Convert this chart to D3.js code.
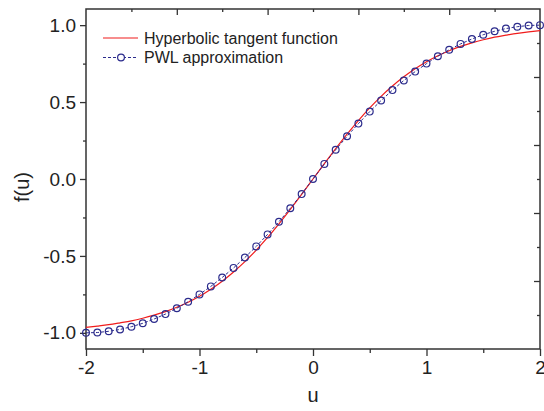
<!DOCTYPE html>
<html>
<head>
<meta charset="utf-8">
<script src="https://cdn.jsdelivr.net/npm/d3@7"></script>
<style>
  html, body { margin: 0; padding: 0; background: #fff; }
  svg text { font-family: "Liberation Sans", Arial, sans-serif; fill: #222; }
</style>
</head>
<body>
<div id="chart"></div>
<script>
// sample points on u
const uValues = [-2.0, -1.9, -1.8, -1.7, -1.6, -1.5, -1.4, -1.3, -1.2, -1.1,
  -1.0, -0.9, -0.8, -0.7, -0.6, -0.5, -0.4, -0.3, -0.2, -0.1,
  0.0, 0.1, 0.2, 0.3, 0.4, 0.5, 0.6, 0.7, 0.8, 0.9,
  1.0, 1.1, 1.2, 1.3, 1.4, 1.5, 1.6, 1.7, 1.8, 1.9, 2.0];

// red curve
const tanhValues = [-0.964, -0.956, -0.947, -0.935, -0.922, -0.905, -0.885, -0.862, -0.834, -0.801,
  -0.762, -0.716, -0.664, -0.604, -0.537, -0.462, -0.380, -0.291, -0.197, -0.100,
  0.000, 0.100, 0.197, 0.291, 0.380, 0.462, 0.537, 0.604, 0.664, 0.716,
  0.762, 0.801, 0.834, 0.862, 0.885, 0.905, 0.922, 0.935, 0.947, 0.956, 0.964];

// blue circles
const pwlValues = [-1.000, -0.998, -0.990, -0.978, -0.960, -0.938, -0.910, -0.878, -0.840, -0.798,
  -0.750, -0.698, -0.640, -0.578, -0.510, -0.438, -0.360, -0.278, -0.190, -0.098,
  0.000, 0.098, 0.190, 0.278, 0.360, 0.438, 0.510, 0.578, 0.640, 0.698,
  0.750, 0.798, 0.840, 0.878, 0.910, 0.938, 0.960, 0.978, 0.990, 0.998, 1.000];

const xTicks = [-2, -1, 0, 1, 2];
const xMinorTicks = [-1.5, -0.5, 0.5, 1.5];
const yTicks = [-1.0, -0.5, 0.0, 0.5, 1.0];
const yMinorTicks = [-0.75, -0.25, 0.25, 0.75];
const legendLabels = ["Hyperbolic tangent function", "PWL approximation"];

const width = 544, height = 411;
const margin = { left: 86, right: 4, top: 9, bottom: 62 };
const plotW = width - margin.left - margin.right;
const plotH = height - margin.top - margin.bottom;

const svg = d3.select("#chart").append("svg")
    .attr("width", width)
    .attr("height", height);

const x = d3.scaleLinear().domain([-2, 2]).range([margin.left, margin.left + plotW]);
const y = d3.scaleLinear().domain([-1.105, 1.105]).range([margin.top + plotH, margin.top]);
// mirror axes in Origin style: 10 equal steps
const xTop = d3.scaleLinear().domain([0, 10]).range([margin.left, margin.left + plotW]);
const yRight = d3.scaleLinear().domain([0, 10]).range([margin.top, margin.top + plotH]);

const axisColor = "#333";
// plain hyphen instead of d3's unicode minus
const hyphen = f => d => f(d).replace("\u2212", "-");

function styleAxis(g){
    g.select(".domain").remove();
    g.selectAll(".tick line").attr("stroke", axisColor).attr("stroke-width", 1.3);
    g.selectAll(".tick text")
        .style("font-size", "19px")
        .style("fill", "#222")
        .style("font-family", "'Liberation Sans', Arial, sans-serif");
}

// bottom
svg.append("g")
    .attr("transform", `translate(0,${margin.top + plotH})`)
    .call(d3.axisBottom(x).tickValues(xTicks).tickSize(7).tickPadding(5)
        .tickFormat(hyphen(d3.format("d"))))
    .call(styleAxis);
svg.append("g")
    .attr("transform", `translate(0,${margin.top + plotH})`)
    .call(d3.axisBottom(x).tickValues(xMinorTicks).tickSize(4).tickFormat(""))
    .call(styleAxis);

// left
svg.append("g")
    .attr("transform", `translate(${margin.left},0)`)
    .call(d3.axisLeft(y).tickValues(yTicks).tickSize(6).tickPadding(4)
        .tickFormat(hyphen(d3.format(".1f"))))
    .call(styleAxis);
svg.append("g")
    .attr("transform", `translate(${margin.left},0)`)
    .call(d3.axisLeft(y).tickValues(yMinorTicks).tickSize(3).tickFormat(""))
    .call(styleAxis);

// top, ticks pointing inward
svg.append("g")
    .attr("transform", `translate(0,${margin.top})`)
    .call(d3.axisBottom(xTop).tickValues([2, 4, 6, 8]).tickSize(6).tickFormat(""))
    .call(styleAxis);
svg.append("g")
    .attr("transform", `translate(0,${margin.top})`)
    .call(d3.axisBottom(xTop).tickValues([1, 3, 5, 7, 9]).tickSize(3).tickFormat(""))
    .call(styleAxis);

// right, ticks pointing inward
svg.append("g")
    .attr("transform", `translate(${margin.left + plotW},0)`)
    .call(d3.axisLeft(yRight).tickValues([2, 4, 6, 8]).tickSize(6).tickFormat(""))
    .call(styleAxis);
svg.append("g")
    .attr("transform", `translate(${margin.left + plotW},0)`)
    .call(d3.axisLeft(yRight).tickValues([1, 3, 5, 7, 9]).tickSize(3).tickFormat(""))
    .call(styleAxis);

// frame
svg.append("rect")
    .attr("x", margin.left)
    .attr("y", margin.top)
    .attr("width", plotW)
    .attr("height", plotH)
    .attr("fill", "none")
    .attr("stroke", axisColor)
    .attr("stroke-width", 1.5);

const red = "#f01c1c";
const blue = "#2b2b8c";

const tanhData = uValues.map((u, i) => ({ u: u, v: tanhValues[i] }));
const pwlData = uValues.map((u, i) => ({ u: u, v: pwlValues[i] }));

svg.append("path")
    .datum(tanhData)
    .attr("fill", "none")
    .attr("stroke", red)
    .attr("stroke-width", 1.2)
    .attr("d", d3.line().x(d => x(d.u)).y(d => y(d.v)).curve(d3.curveMonotoneX));

svg.append("path")
    .datum(pwlData)
    .attr("fill", "none")
    .attr("stroke", blue)
    .attr("stroke-width", 1)
    .attr("stroke-dasharray", "3,2")
    .attr("d", d3.line().x(d => x(d.u)).y(d => y(d.v)));

svg.append("g").selectAll("circle")
    .data(pwlData)
    .enter()
    .append("circle")
        .attr("cx", d => x(d.u))
        .attr("cy", d => y(d.v))
        .attr("r", 3.4)
        .attr("fill", "none")
        .attr("stroke", blue)
        .attr("stroke-width", 1.2);

// legend
const legend = svg.append("g");
legend.append("line")
    .attr("x1", 103).attr("x2", 138)
    .attr("y1", 38).attr("y2", 38)
    .attr("stroke", red).attr("stroke-width", 1.2);
legend.append("line")
    .attr("x1", 103).attr("x2", 138)
    .attr("y1", 57.5).attr("y2", 57.5)
    .attr("stroke", blue).attr("stroke-width", 1)
    .attr("stroke-dasharray", "3,2");
legend.append("circle")
    .attr("cx", 121).attr("cy", 57.5).attr("r", 3.4)
    .attr("fill", "#fff").attr("stroke", blue).attr("stroke-width", 1.2);
legend.selectAll("text")
    .data(legendLabels)
    .enter()
    .append("text")
        .attr("x", 144)
        .attr("y", (d, i) => 43.5 + i * 19.5)
        .style("font-size", "16px")
        .text(d => d);

// axis titles
svg.append("text")
    .attr("x", x(0))
    .attr("y", 402)
    .attr("text-anchor", "middle")
    .style("font-size", "20px")
    .text("u");

svg.append("text")
    .attr("transform", `translate(29,${margin.top + plotH / 2 + 8}) rotate(-90)`)
    .attr("text-anchor", "middle")
    .style("font-size", "20px")
    .text("f(u)");
</script>
</body>
</html>
